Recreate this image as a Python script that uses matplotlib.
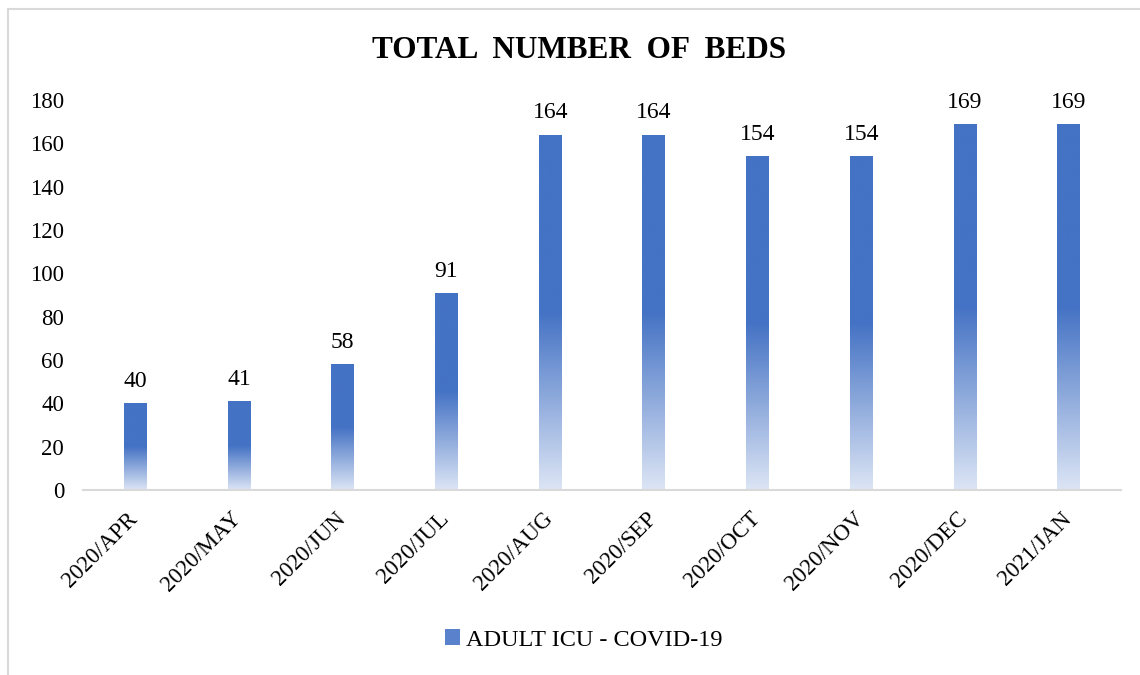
import numpy as np
import matplotlib
matplotlib.use("Agg")
import matplotlib.pyplot as plt
import matplotlib.transforms as mtransforms
from matplotlib.colors import LinearSegmentedColormap
from matplotlib.patches import Rectangle

# Données
mois = ["2020/APR", "2020/MAY", "2020/JUN", "2020/JUL", "2020/AUG",
        "2020/SEP", "2020/OCT", "2020/NOV", "2020/DEC", "2021/JAN"]
lits = [40, 41, 58, 91, 164, 164, 154, 154, 169, 169]
serie = "ADULT ICU - COVID-19"

plt.rcParams['font.family'] = ['Liberation Serif', 'DejaVu Serif']

# dégradé : clair en bas, bleu plein sur la moitié haute
cmap = LinearSegmentedColormap.from_list(
    "degrade", [(0.0, "#dce5f5"), (0.5, "#4472c4"), (1.0, "#4472c4")])
grad = np.linspace(0, 1, 256).reshape(-1, 1)

fig = plt.figure(figsize=(11.4, 6.75), dpi=100)
ax = fig.add_axes([0.0732, 0.274, 0.9098, 0.578])

x = np.arange(len(mois))
barres = ax.bar(x, lits, width=0.22, color="none", edgecolor="none", label=serie)

for b in barres:
    x0, y0 = b.get_x(), b.get_y()
    w, h = b.get_width(), b.get_height()
    im = ax.imshow(grad, cmap=cmap, origin="lower", aspect="auto",
                   extent=[x0, x0 + w, y0, y0 + h], zorder=2)
    im.set_clip_path(b)

for xi, v in zip(x, lits):
    ax.annotate(str(v), (xi, v), xytext=(0, 8), textcoords="offset points",
                ha="center", va="bottom", fontsize=17)

ax.set_xlim(-0.5, len(mois) - 0.5)
ax.set_ylim(0, 180)
ax.set_yticks(range(0, 181, 20))
ax.set_xticks(x)
ax.set_xticklabels(mois, rotation=45, ha="right", rotation_mode="anchor")
ax.tick_params(axis="both", length=0, labelsize=16.5)
ax.tick_params(axis="y", pad=14)
ax.tick_params(axis="x", pad=13)
# petit décalage des étiquettes vers la gauche
decal = mtransforms.ScaledTranslation(-8 / 100, 0, fig.dpi_scale_trans)
for lab in ax.get_xticklabels():
    lab.set_transform(lab.get_transform() + decal)
for s in ["top", "right", "left"]:
    ax.spines[s].set_visible(False)
ax.spines["bottom"].set_color("#d9d9d9")
ax.spines["bottom"].set_linewidth(1.5)

fig.text(0.508, 0.925, "TOTAL  NUMBER  OF  BEDS", ha="center", va="center",
         fontsize=22.5, fontweight="bold")

poignee = Rectangle((0, 0), 1, 1, facecolor="#5a82cc", edgecolor="none")
fig.legend([poignee], [serie], loc="center", bbox_to_anchor=(0.512, 0.052),
           frameon=False, fontsize=17.5, handlelength=0.6, handleheight=0.6,
           handletextpad=0.25)

# cadre gris autour du graphique
fig.patches.append(Rectangle((8 / 1140, -0.1), 1.2, 1.1 - 9 / 675,
                             transform=fig.transFigure, fill=False,
                             edgecolor="#d9d9d9", linewidth=1.5))

fig.savefig("out.png", dpi=100)
